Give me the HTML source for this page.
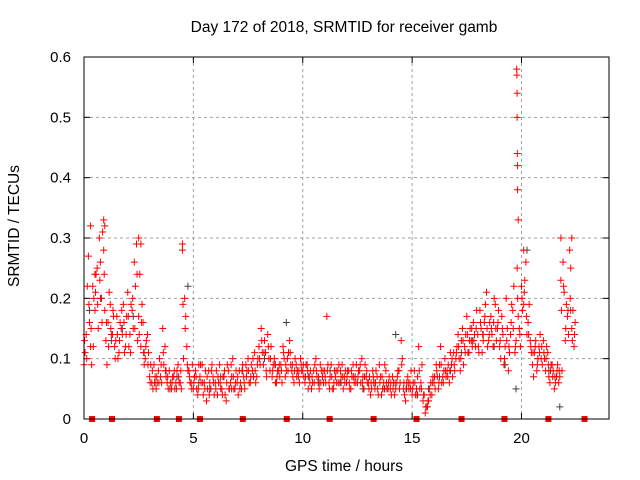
<!DOCTYPE html>
<html><head><meta charset="utf-8"><style>
html,body{margin:0;padding:0;background:#fff;}
svg{display:block;font-family:"Liberation Sans",sans-serif;}
</style></head><body>
<svg id="chart" width="640" height="480" viewBox="0 0 640 480" xmlns="http://www.w3.org/2000/svg">
<rect width="640" height="480" fill="#fff"/>
<text x="344" y="32" font-size="15.5" text-anchor="middle" fill="#000">Day 172 of 2018, SRMTID for receiver gamb</text>
<text x="344" y="471" font-size="15.5" text-anchor="middle" fill="#000">GPS time / hours</text>
<text transform="translate(19,226) rotate(-90)" font-size="15.5" text-anchor="middle" fill="#000">SRMTID / TECUs</text>
<g id="grid"></g>
<g id="ticks"></g>
<g id="gray"></g>
<g id="red"></g>
<g id="marks"></g>
<rect x="84" y="57" width="525" height="362" fill="none" stroke="#000" stroke-width="1"/>
</svg>
<script>
const xTicks=[0,5,10,15,20];
const yTicks=[0,0.1,0.2,0.3,0.4,0.5,0.6];
const yLabels=["0","0.1","0.2","0.3","0.4","0.5","0.6"];
const seriesA=[.09,.14,.27,.12,.22,.18,.25,.30,.20,.28,
.13,.16,.19,.14,.12,.17,.11,.15,.19,.12,
.21,.14,.18,.26,.29,.17,.12,.16,.10,.14,
.07,.06,.09,.05,.08,.07,.15,.12,.06,.08,
.05,.07,.06,.09,.06,.28,.20,.12,.08,.06,
.05,.08,.04,.07,.09,.06,.03,.08,.05,.07,
.06,.04,.09,.05,.07,.03,.08,.06,.10,.05,
.06,.08,.05,.07,.09,.10,.06,.08,.11,.07,
.12,.15,.09,.11,.14,.08,.07,.10,.06,.08,
.09,.12,.07,.10,.13,.08,.06,.09,.07,.10,
.08,.06,.09,.07,.05,.08,.10,.06,.09,.07,
.08,.17,.06,.09,.05,.07,.08,.06,.09,.07,
.06,.08,.05,.09,.07,.06,.08,.10,.05,.07,
.06,.04,.08,.05,.07,.09,.04,.06,.08,.05,
.05,.07,.04,.06,.08,.13,.05,.03,.07,.06,
.04,.08,.05,.12,.06,.03,.01,.02,.05,.04,
.06,.09,.05,.12,.07,.10,.08,.06,.09,.11,
.10,.14,.08,.15,.12,.17,.11,.13,.16,.12,
.14,.18,.11,.16,.21,.13,.17,.12,.19,.15,
.12,.17,.09,.20,.08,.14,.18,.11,.25,.15,
.22,.19,.26,.16,.13,.09,.11,.08,.12,.10,
.13,.08,.11,.06,.09,.05,.07,.06,.23,.26,
.13,.17,.28,.15,.12];
const seriesB=[.11,.22,.16,.09,.20,.24,.15,.26,.31,.18,
.09,.21,.14,.17,.13,.10,.16,.14,.11,.17,
.12,.19,.15,.22,.13,.24,.19,.09,.13,.11,
.09,.05,.07,.06,.10,.06,.09,.07,.05,.06,
.07,.05,.08,.06,.05,.10,.17,.08,.06,.09,
.07,.05,.09,.06,.04,.08,.05,.06,.09,.04,
.08,.06,.05,.07,.04,.09,.05,.07,.05,.08,
.04,.06,.09,.05,.08,.06,.09,.07,.06,.10,
.09,.11,.13,.07,.10,.12,.09,.06,.08,.07,
.06,.10,.08,.11,.09,.07,.10,.08,.06,.08,
.07,.09,.05,.08,.06,.09,.07,.05,.08,.06,
.06,.09,.07,.05,.08,.06,.09,.07,.05,.08,
.08,.05,.07,.06,.09,.08,.06,.07,.09,.06,
.07,.05,.06,.08,.04,.07,.05,.09,.05,.07,
.04,.06,.05,.08,.06,.10,.04,.06,.05,.08,
.06,.04,.07,.05,.09,.04,.02,.03,.06,.07,
.05,.07,.09,.06,.08,.07,.09,.11,.07,.08,
.12,.10,.13,.09,.14,.11,.15,.12,.14,.18,
.11,.15,.13,.19,.12,.16,.14,.20,.13,.18,
.10,.14,.12,.15,.11,.19,.22,.13,.17,.12,
.18,.23,.14,.19,.11,.07,.13,.10,.14,.09,
.10,.12,.07,.09,.08,.06,.09,.07,.08,.21,
.19,.14,.25,.18,.16];
const seriesC=[.13,.10,.19,.15,.12,.21,.19,.23,.16,.24,
.16,.12,.15,.18,.10,.14,.13,.18,.16,.14,
.17,.11,.20,.15,.24,.14,.16,.11,.12,.09,
.06,.08,.06,.07,.06,.09,.11,.08,.07,.05,
.06,.08,.05,.07,.08,.19,.15,.09,.07,.05,
.06,.07,.05,.09,.06,.05,.07,.04,.08,.06,
.05,.07,.06,.04,.08,.06,.05,.09,.07,.06,
.07,.05,.08,.06,.07,.08,.07,.10,.08,.09,
.10,.13,.11,.08,.12,.10,.08,.09,.07,.09,
.08,.11,.09,.08,.11,.09,.08,.07,.08,.09,
.09,.07,.08,.06,.07,.06,.08,.07,.06,.08,
.07,.08,.05,.07,.06,.08,.06,.08,.07,.06,
.07,.06,.08,.07,.06,.07,.09,.06,.07,.08,
.05,.06,.07,.06,.05,.06,.07,.05,.06,.06,
.06,.05,.06,.07,.05,.09,.06,.05,.06,.05,
.05,.06,.04,.08,.05,.04,.02,.03,.04,.06,
.07,.08,.06,.09,.06,.08,.07,.08,.10,.09,
.11,.12,.10,.13,.11,.14,.13,.15,.13,.15,
.12,.16,.14,.17,.15,.14,.15,.16,.15,.16,
.13,.15,.10,.13,.12,.16,.15,.12,.20,.14,
.20,.21,.17,.14,.12,.11,.12,.09,.11,.12,
.11,.10,.09,.08,.07,.07,.08,.08,.18,.22,
.15,.18,.20,.13,.14];
const spikeTimes=[19.78,19.79,19.80,19.80,19.81,19.82,19.82,19.85,0.9,0.95,0.3,2.5,4.5,21.8,22.3,20.1,2.6,0.5];
const spikeValues=[.58,.57,.54,.50,.44,.42,.38,.33,.33,.32,.32,.30,.29,.30,.30,.28,.29,.24];
const grayTimes=[0.25,0.75,1.25,1.75,2.25,2.75,3.25,3.75,4.25,4.75,5.25,5.75,6.25,6.75,7.25,7.75,8.25,8.75,9.25,9.75,10.25,10.75,11.25,11.75,12.25,12.75,13.25,13.75,14.25,14.75,15.25,15.75,16.25,16.75,17.25,17.75,18.25,18.75,19.25,19.75,20.25,20.75,21.25,21.75,22.25];
const grayValues=[.18,.2,.13,.15,.17,.11,.06,.08,.07,.22,.06,.05,.07,.05,.08,.07,.1,.09,.16,.08,.07,.06,.08,.06,.07,.05,.06,.05,.14,.05,.04,.05,.07,.08,.11,.13,.14,.12,.09,.05,.28,.1,.08,.02,.18];
const markerHours=[0.37,1.28,3.33,4.34,5.3,7.26,9.27,11.23,13.24,15.2,17.26,19.22,21.23,22.88];
const X0=84,X1=609,Y0=419,Y1=57;
const xs=h=>X0+(X1-X0)*h/24;
const ys=v=>Y0-(Y0-Y1)*v/0.6;
const NS="http://www.w3.org/2000/svg";
function mk(tag,parent,attrs){const e=document.createElementNS(NS,tag);for(const k in attrs)e.setAttribute(k,attrs[k]);parent.appendChild(e);return e;}
const grid=document.getElementById('grid'),ticks=document.getElementById('ticks');
xTicks.forEach(t=>{const x=xs(t);
 if(t>0){const g=mk('line',grid,{x1:x,x2:x,y1:Y1,y2:Y0,stroke:'#a0a0a0','stroke-dasharray':'3,3'});
 }
 mk('line',ticks,{x1:x,x2:x,y1:Y0,y2:Y0-6,stroke:'#000'});mk('line',ticks,{x1:x,x2:x,y1:Y1,y2:Y1+6,stroke:'#000'});
 const l=mk('text',ticks,{x:x,y:443,'font-size':'15','text-anchor':'middle'});l.textContent=String(t);
 });
yTicks.forEach((t,i)=>{const y=ys(t);
 if(t>0&&t<0.6){const g=mk('line',grid,{x1:X0,x2:X1,y1:y,y2:y,stroke:'#a0a0a0','stroke-dasharray':'3,3'});
 }
 mk('line',ticks,{x1:X0,x2:X0+6,y1:y,y2:y,stroke:'#000'});mk('line',ticks,{x1:X1,x2:X1-6,y1:y,y2:y,stroke:'#000'});
 const l=mk('text',ticks,{x:71,y:y+5,'font-size':'15','text-anchor':'end'});l.textContent=yLabels[i];
 });
function plus(parent,h,v,color){const x=xs(h),y=ys(v);
 const p=mk('path',parent,{d:`M${x-3.5},${y}h7M${x},${y-3.5}v7`,stroke:color,'stroke-width':'1',fill:'none'});
 }
const gray=document.getElementById('gray'),red=document.getElementById('red');
grayTimes.forEach((h,i)=>plus(gray,h,grayValues[i],'#404040'));
seriesA.forEach((v,i)=>plus(red,i*0.1,v,'#ff0000'));
seriesB.forEach((v,i)=>plus(red,i*0.1+0.05,v,'#ff0000'));
seriesC.forEach((v,i)=>plus(red,i*0.1+0.025,v,'#ff0000'));
spikeTimes.forEach((h,i)=>plus(red,h,spikeValues[i],'#ff0000'));
const marks=document.getElementById('marks');
markerHours.forEach(h=>{const r=mk('rect',marks,{x:xs(h)-3,y:Y0-3,width:6,height:6,fill:'#ff0000'});
 });
</script>
</body></html>
